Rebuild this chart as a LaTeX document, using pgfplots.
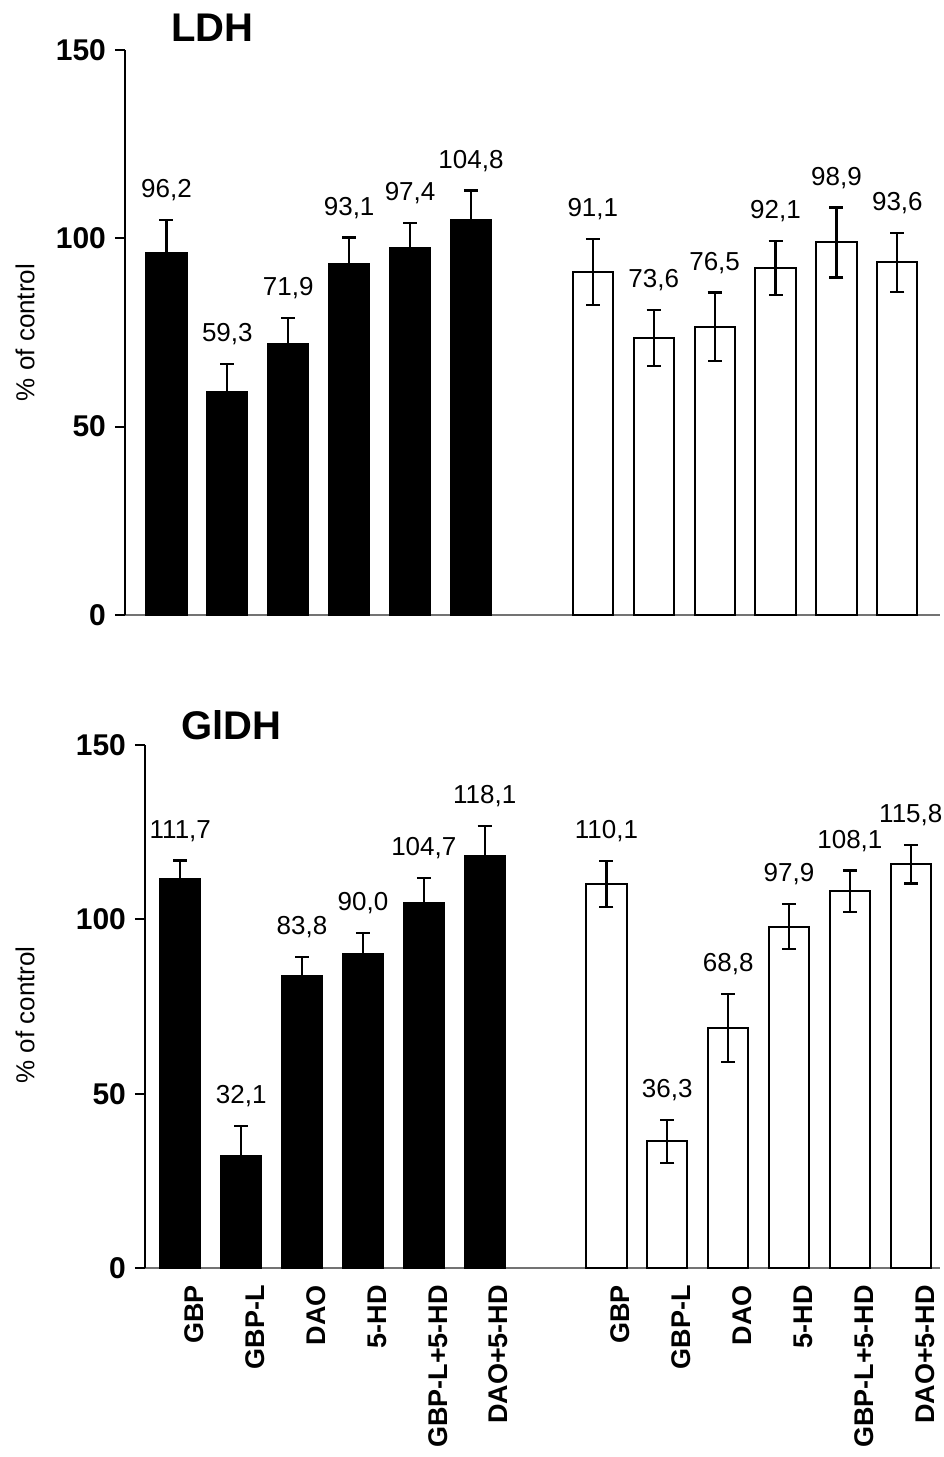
\documentclass[border=0pt]{standalone}
\usepackage{pgfplots}
\pgfplotsset{compat=1.18}
\usepackage{pgfplotstable}
\usepackage{fontspec}
\setmainfont{Liberation Sans}

\pgfplotstableread{
x y e lab
0 96.2 8.7 96,2
1 59.3 7.4 59,3
2 71.9 7.0 71,9
3 93.1 7.1 93,1
4 97.4 6.6 97,4
5 104.8 7.9 104,8
}\ldhA
\pgfplotstableread{
x y e lab
7 91.1 8.8 91,1
8 73.6 7.4 73,6
9 76.5 9.1 76,5
10 92.1 7.2 92,1
11 98.9 9.3 98,9
12 93.6 7.9 93,6
}\ldhB
\pgfplotstableread{
x y e lab
0 111.7 5.2 111,7
1 32.1 8.6 32,1
2 83.8 5.5 83,8
3 90.0 6.0 90,0
4 104.7 7.2 104,7
5 118.1 8.6 118,1
}\gldhA
\pgfplotstableread{
x y e lab
7 110.1 6.6 110,1
8 36.3 6.1 36,3
9 68.8 9.7 68,8
10 97.9 6.4 97,9
11 108.1 5.9 108,1
12 115.8 5.5 115,8
}\gldhB

\pgfplotsset{
  panel/.style={
    scale only axis, anchor=south west,
    ymin=0, ymax=150, ytick={0,50,100,150},
    axis x line=bottom, axis y line=left,
    axis line style={-},
    x axis line style={black!55, line width=0.8pt},
    y axis line style={black, line width=0.9pt},
    tick align=outside, major tick length=5pt,
    major x tick style={draw=none},
    ytick style={black, line width=0.9pt},
    /pgf/number format/assume math mode=true,
    yticklabel style={font=\bfseries\fontsize{15}{16}\selectfont, xshift=-1pt},
    clip=false,
  },
  blackbar/.style={ybar, bar width=0.66, bar shift=0pt, fill=black, draw=black, line width=1pt,
    error bars/.cd, y dir=plus, y explicit, error mark=-,
    error bar style={line width=1.1pt, black},
    error mark options={rotate=90, line width=1.1pt, mark size=3.5pt, black}},
  whitebar/.style={ybar, bar width=0.66, bar shift=0pt, fill=white, draw=black, line width=1pt,
    error bars/.cd, y dir=both, y explicit, error mark=-,
    error bar style={line width=1.1pt, black},
    error mark options={rotate=90, line width=1.1pt, mark size=3.5pt, black}},
  vlabels/.style={draw=none, mark=none, nodes near coords, point meta=explicit symbolic,
    nodes near coords style={font=\fontsize{13}{14}\selectfont, anchor=south, yshift=6pt, black}},
}

\begin{document}
\begin{tikzpicture}
\path[use as bounding box] (-62.5pt,307.5pt) rectangle (409pt,-421pt);

\begin{axis}[panel, at={(0pt,0pt)}, width=407.5pt, height=282.5pt,
  xmin=-0.68, xmax=12.7, xtick=\empty]
  \addplot[blackbar] table[x=x, y=y, y error=e] \ldhA;
  \addplot[whitebar] table[x=x, y=y, y error=e] \ldhB;
  \addplot[vlabels] table[x=x, y expr=\thisrow{y}+\thisrow{e}, meta=lab] \ldhA;
  \addplot[vlabels] table[x=x, y expr=\thisrow{y}+\thisrow{e}, meta=lab] \ldhB;
  \node[font=\bfseries\fontsize{20}{22}\selectfont] at (rel axis cs:0.107,1.039) {LDH};
  \node[rotate=90, font=\fontsize{13}{14}\selectfont] at ([xshift=-50pt]rel axis cs:0,0.5) {\% of control};
\end{axis}

\begin{axis}[panel, at={(10pt,-326.5pt)}, width=397.5pt, height=261.5pt,
  xmin=-0.58, xmax=12.48,
  xtick={0,1,2,3,4,5,7,8,9,10,11,12},
  xticklabels={GBP,GBP-L,DAO,5-HD,GBP-L+5-HD,DAO+5-HD,GBP,GBP-L,DAO,5-HD,GBP-L+5-HD,DAO+5-HD},
  xticklabel style={rotate=90, anchor=east, font=\bfseries\fontsize{13.5}{14}\selectfont, yshift=-7pt}]
  \addplot[blackbar] table[x=x, y=y, y error=e] \gldhA;
  \addplot[whitebar] table[x=x, y=y, y error=e] \gldhB;
  \addplot[vlabels] table[x=x, y expr=\thisrow{y}+\thisrow{e}, meta=lab] \gldhA;
  \addplot[vlabels] table[x=x, y expr=\thisrow{y}+\thisrow{e}, meta=lab] \gldhB;
  \node[font=\bfseries\fontsize{20}{22}\selectfont] at (rel axis cs:0.109,1.038) {GlDH};
  \node[rotate=90, font=\fontsize{13}{14}\selectfont] at ([xshift=-60pt]rel axis cs:0,0.484) {\% of control};
\end{axis}
\end{tikzpicture}
\end{document}
